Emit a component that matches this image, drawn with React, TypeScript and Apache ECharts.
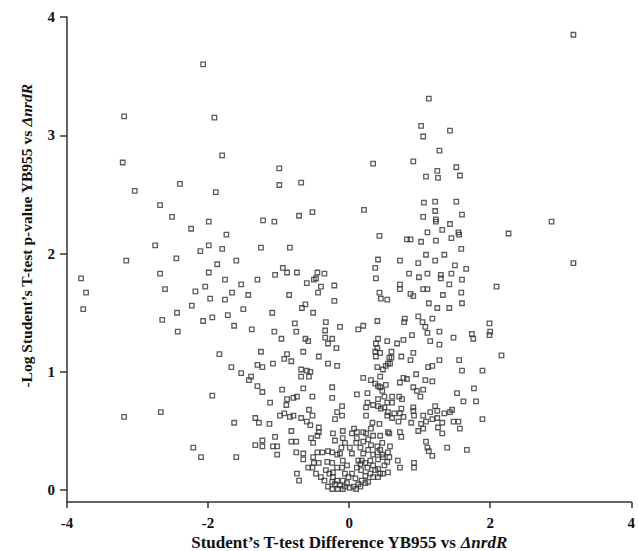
import React, { useEffect, useRef } from "react";
import * as echarts from "echarts";

type Pt = [number, number];

const xTicks = [-4, -2, 0, 2, 4];
const yTicks = [0, 1, 2, 3, 4];
const xTitle = "Student’s T-test Difference YB955 vs {i|ΔnrdR}";
const yTitle = "-Log Student’s T-test p-value YB955 vs {i|ΔnrdR}";

const upperLeft: Pt[] = [
  [-2.07,3.60],[-3.19,3.16],[-1.91,3.15],[-3.21,2.77],[-1.80,2.83],[-0.99,2.72],[-3.04,2.53],[-2.40,2.59],[-1.89,2.52],[-0.99,2.58],[-0.68,2.60],[-2.68,2.41],[-2.51,2.31],[-1.99,2.27],[-1.22,2.28],[-1.06,2.27],[-0.71,2.32],[-0.52,2.35],[-2.24,2.21],[-1.74,2.16],[-2.75,2.07],[-1.99,2.07],[-2.11,2.02],[-1.80,2.04],[-1.25,2.05],[-0.84,2.05],[-2.45,1.96],[-3.16,1.94],[-1.87,1.91],[-1.60,1.94],[-1.99,1.84],[-2.68,1.83],[-1.05,1.82],[-0.94,1.88],[-0.88,1.84],[-0.74,1.84],[-0.47,1.79],[-0.45,1.84],[-1.76,1.78],[-1.30,1.78],[-3.80,1.79],[-0.35,1.83],[-0.50,1.78],
];

const upperRight: Pt[] = [
  [3.18,3.85],[1.13,3.31],[1.02,3.08],[1.43,3.04],[1.05,2.99],[1.28,2.87],[0.34,2.76],[0.91,2.78],[1.25,2.70],[1.52,2.73],[1.09,2.65],[1.26,2.64],[1.57,2.66],[0.21,2.37],[1.06,2.43],[1.22,2.44],[1.52,2.44],[1.22,2.36],[1.05,2.31],[1.60,2.33],[1.23,2.29],[1.23,2.27],[1.43,2.25],[2.87,2.27],[0.43,2.15],[0.82,2.12],[0.87,2.12],[1.02,2.10],[1.11,2.18],[1.32,2.20],[1.23,2.11],[1.45,2.13],[1.55,2.18],[1.56,2.16],[2.26,2.17],[1.59,2.04],[0.41,1.95],[0.37,1.88],[0.72,1.94],[1.09,1.99],[0.98,1.92],[1.22,1.94],[1.35,1.99],[1.50,1.90],[1.66,1.87],[3.18,1.92],[0.85,1.83],[0.99,1.80],[1.11,1.83],[1.30,1.82],[1.30,1.79],[1.45,1.83],[1.60,1.78],[0.38,1.79],
];

const middleLeft: Pt[] = [
  [-0.60,1.75],[-0.21,1.73],[-0.40,1.72],[-0.44,1.67],[-2.18,1.68],[-2.04,1.72],[-1.53,1.74],[-1.66,1.67],[-1.43,1.65],[-1.97,1.62],[-1.76,1.61],[-0.85,1.65],[-2.23,1.56],[-0.62,1.57],[-0.67,1.54],[-0.51,1.50],[-0.21,1.60],[-1.50,1.53],[-1.72,1.48],[-1.94,1.46],[-2.07,1.43],[-1.09,1.50],[-1.63,1.39],[-1.38,1.36],[-1.06,1.34],[-0.77,1.41],[-0.75,1.34],[-0.96,1.28],[-0.62,1.28],[-0.58,1.26],[-0.33,1.42],[-0.13,1.38],[-0.34,1.35],[-0.34,1.29],[-0.24,1.28],[-0.30,1.24],[-0.18,1.20],[-1.25,1.17],[-1.84,1.15],[-0.88,1.15],[-0.92,1.11],[-0.82,1.09],[-0.65,1.17],[-0.43,1.13],[-1.08,1.07],[-1.30,1.06],[-1.23,1.04],[-1.67,1.04],[-0.30,1.07],[-0.17,1.05],[-0.68,1.02],[-0.60,1.01],[-0.55,1.00],[-0.68,0.96],[-0.57,0.96],[-1.53,0.99],[-1.39,0.96],[-1.42,0.93],[-1.30,0.88],[-1.23,0.83],[-0.95,0.85],[-0.65,0.86],[-0.24,0.87],[-1.94,0.80],[-2.44,1.50],[-2.43,1.34],[-2.65,1.44],[-2.61,1.70],[-3.73,1.67],[-3.77,1.53],[-3.19,0.62],[-2.67,0.66],[-2.21,0.36],[-2.10,0.28],[-1.63,0.57],[-1.60,0.28],
];

const lowerLeft: Pt[] = [
  [-0.52,0.79],[-0.24,0.78],[-0.10,0.71],[-1.12,0.74],[-0.88,0.77],[-0.89,0.72],[-0.79,0.78],[-0.74,0.79],[-0.57,0.68],[-0.98,0.63],[-0.92,0.65],[-0.84,0.62],[-0.79,0.63],[-0.68,0.61],[-0.52,0.63],[-0.17,0.66],[-0.10,0.63],[-0.20,0.60],[-1.33,0.61],[-1.28,0.57],[-1.13,0.56],[-0.60,0.58],[-0.55,0.55],[-0.43,0.53],[-0.43,0.49],[-0.82,0.50],[-0.23,0.48],[-0.09,0.50],[-0.45,0.46],[-0.54,0.44],[-0.51,0.40],[-1.05,0.45],[-1.23,0.42],[-0.82,0.41],[-0.75,0.41],[-1.33,0.38],[-1.23,0.37],[-1.08,0.37],[-1.02,0.37],[-1.02,0.30],[-0.75,0.32],[-0.65,0.31],[-0.65,0.26],[-0.51,0.28],[-0.45,0.32],[-0.38,0.32],[-0.30,0.33],[-0.20,0.42],[-0.09,0.44],[-0.06,0.40],[-0.11,0.36],[-0.13,0.31],[-0.50,0.23],[-0.43,0.23],[-0.58,0.19],[-0.52,0.19],[-0.31,0.24],[-0.24,0.23],[-0.74,0.14],[-0.71,0.08],[-0.47,0.14],[-0.40,0.11],[-0.33,0.17],[-0.28,0.14],[-0.23,0.15],[-0.17,0.19],[-0.30,0.03],[-0.24,0.07],[-0.17,0.08],[-0.13,0.04],[-0.06,0.03],[-0.09,0.25],[-0.03,0.21],[-0.10,0.19],[-0.06,0.14],[-0.01,0.11],[-0.09,0.08],[-0.03,0.06],[-0.17,0.30],[-0.24,0.32],
];

const middleRight: Pt[] = [
  [0.72,1.74],[0.72,1.70],[1.05,1.70],[1.11,1.70],[1.42,1.74],[1.59,1.67],[2.09,1.72],[0.43,1.67],[0.45,1.62],[0.54,1.61],[0.87,1.66],[0.91,1.64],[1.33,1.65],[1.13,1.58],[1.25,1.54],[1.42,1.54],[1.60,1.58],[0.40,1.43],[0.13,1.36],[0.20,1.39],[0.79,1.45],[0.78,1.42],[0.98,1.47],[1.18,1.45],[1.04,1.42],[1.08,1.38],[1.11,1.33],[1.28,1.34],[0.89,1.31],[1.15,1.26],[1.48,1.29],[1.28,1.23],[1.74,1.32],[1.76,1.28],[1.99,1.41],[2.00,1.34],[1.99,1.31],[2.16,1.14],[0.41,1.28],[0.38,1.24],[0.40,1.20],[0.54,1.26],[0.68,1.24],[0.77,1.27],[0.60,1.17],[0.37,1.17],[0.38,1.13],[0.44,1.16],[0.74,1.13],[0.91,1.16],[0.57,1.12],[0.60,1.12],[0.55,1.07],[0.58,1.07],[0.52,1.05],[0.48,1.02],[0.40,1.04],[0.87,1.10],[1.12,1.04],[1.18,1.05],[1.28,1.10],[1.56,1.10],[1.60,1.01],[1.89,1.01],[0.44,0.96],[0.20,0.95],[0.31,0.93],[0.37,0.90],[0.41,0.88],[0.44,0.87],[0.52,0.89],[0.47,0.84],[0.72,0.91],[0.77,0.95],[0.82,0.94],[0.95,0.98],[1.08,0.93],[1.18,0.92],[0.91,0.87],[0.96,0.84],[1.05,0.85],[1.77,0.86],[1.53,0.82],[0.11,0.81],[0.26,0.82],
];

const lowerRight: Pt[] = [
  [0.41,0.77],[0.50,0.79],[0.61,0.79],[0.71,0.79],[0.54,0.74],[0.61,0.74],[0.75,0.77],[1.01,0.79],[1.62,0.75],[1.80,0.75],[0.24,0.70],[0.34,0.72],[0.41,0.71],[0.45,0.69],[0.26,0.74],[0.50,0.70],[0.55,0.66],[0.64,0.65],[0.74,0.69],[0.72,0.65],[0.91,0.70],[0.91,0.67],[1.15,0.66],[1.22,0.71],[1.25,0.67],[1.35,0.65],[1.43,0.66],[1.46,0.68],[0.24,0.63],[0.54,0.63],[0.61,0.61],[0.70,0.58],[0.77,0.62],[0.92,0.63],[1.05,0.63],[0.88,0.57],[1.09,0.58],[1.18,0.60],[1.25,0.61],[1.32,0.57],[1.48,0.58],[1.55,0.58],[1.89,0.60],[0.33,0.57],[0.43,0.56],[1.02,0.56],[1.05,0.52],[0.98,0.50],[1.26,0.53],[1.32,0.48],[1.57,0.52],[0.07,0.52],[0.11,0.49],[0.04,0.48],[0.20,0.49],[0.31,0.52],[0.34,0.46],[0.24,0.48],[0.55,0.49],[0.57,0.48],[0.72,0.49],[0.74,0.45],[0.44,0.46],[0.11,0.44],[0.10,0.40],[0.01,0.36],[0.20,0.41],[0.27,0.43],[0.47,0.40],[0.31,0.38],[0.40,0.37],[0.58,0.37],[0.55,0.32],[1.09,0.41],[1.11,0.36],[1.13,0.33],[1.18,0.29],[1.39,0.36],[1.67,0.34],[0.27,0.34],[0.20,0.31],[0.16,0.36],[0.04,0.31],[0.40,0.32],[0.44,0.34],[0.34,0.30],[0.47,0.30],[0.41,0.26],[0.48,0.28],[0.57,0.28],[0.54,0.24],[0.50,0.21],[0.69,0.25],[0.72,0.19],[0.92,0.23],[0.92,0.19],[0.13,0.25],[0.18,0.25],[0.23,0.23],[0.16,0.22],[0.26,0.19],[0.11,0.19],[0.30,0.25],[0.34,0.21],[0.37,0.17],[0.30,0.14],[0.41,0.18],[0.44,0.14],[0.48,0.14],[0.55,0.15],[0.34,0.11],[0.41,0.11],
];

const baseCluster: Pt[] = [
  [0.13,0.05],[0.23,0.06],[0.01,0.02],[0.06,0.03],[0.10,0.01],[0.16,0.03],[0.18,0.08],[0.09,0.10],[0.04,0.14],[-0.20,0.05],[-0.24,0.01],[-0.16,0.01],[-0.09,0.01],[-0.23,0.11],[-0.35,0.08],[0.23,0.12],[0.17,0.17],[0.27,0.07],
];

const FONT = "'Liberation Serif', 'Times New Roman', serif";

export default function App() {
  const ref = useRef<HTMLDivElement>(null);
  useEffect(() => {
    if (!ref.current) return;
    const chart = echarts.init(ref.current, undefined, { renderer: "svg" });
    const data = [
      ...upperLeft,
      ...upperRight,
      ...middleLeft,
      ...lowerLeft,
      ...middleRight,
      ...lowerRight,
      ...baseCluster,
    ];
    const axisLineStyle = { color: "#333", width: 1.5 };
    const labelStyle = {
      fontFamily: FONT,
      fontWeight: "bold",
      fontSize: 15,
      color: "#111",
    };
    const titleRich = (size: number) => ({
      i: { fontFamily: FONT, fontWeight: "bold", fontStyle: "italic", fontSize: size, fill: "#111" },
    });
    chart.setOption({
      animation: false,
      backgroundColor: "#ffffff",
      grid: { left: 67, right: 6, top: 17, bottom: 49 },
      xAxis: {
        type: "value",
        min: -4,
        max: 4,
        interval: 2,
        axisLine: { show: true, onZero: false, lineStyle: axisLineStyle },
        axisTick: { show: true, length: 6, lineStyle: axisLineStyle, customValues: xTicks },
        axisLabel: { margin: 13, customValues: xTicks, ...labelStyle },
        splitLine: { show: false },
      },
      yAxis: {
        type: "value",
        min: -0.1,
        max: 4,
        axisLine: { show: true, onZero: false, lineStyle: axisLineStyle },
        axisTick: { show: true, length: 7, lineStyle: axisLineStyle, customValues: yTicks },
        axisLabel: { margin: 12, customValues: yTicks, ...labelStyle },
        splitLine: { show: false },
      },
      graphic: [
        {
          type: "text",
          x: 349,
          y: 542,
          style: {
            text: xTitle,
            fontFamily: FONT,
            fontWeight: "bold",
            fontSize: 17,
            fill: "#111",
            align: "center",
            verticalAlign: "middle",
            rich: titleRich(17),
          },
        },
        {
          type: "text",
          x: 26,
          y: 236,
          rotation: Math.PI / 2,
          style: {
            text: yTitle,
            fontFamily: FONT,
            fontWeight: "bold",
            fontSize: 15.5,
            fill: "#111",
            align: "center",
            verticalAlign: "middle",
            rich: titleRich(15.5),
          },
        },
      ],
      series: [
        {
          type: "scatter",
          data,
          symbol: "rect",
          symbolSize: 4.5,
          itemStyle: { color: "rgba(255,255,255,0)", borderColor: "#333", borderWidth: 1.3 },
        },
      ],
    });
    return () => chart.dispose();
  }, []);
  return (
    <div
      ref={ref}
      style={{ position: "fixed", left: 0, top: 0, width: 638, height: 551, background: "#fff" }}
    />
  );
}
